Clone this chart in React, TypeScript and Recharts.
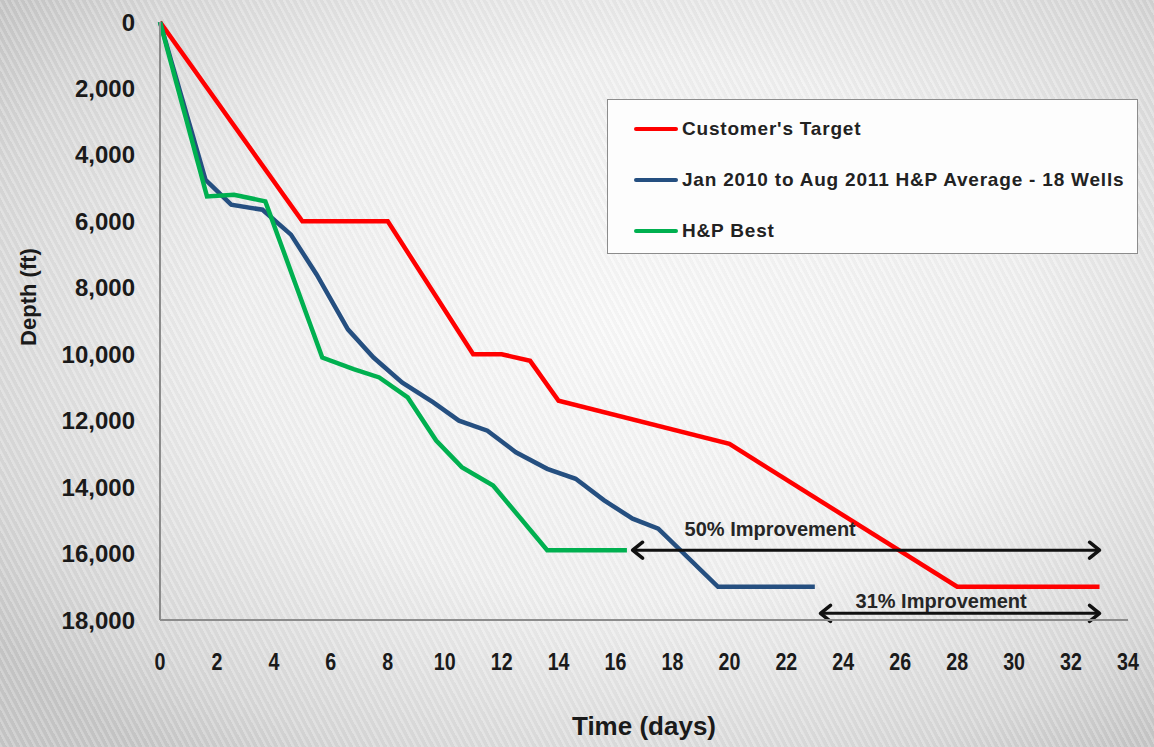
import { LineChart, Line, XAxis, YAxis, ReferenceLine, Legend } from 'recharts';

// axis ticks
const dayTicks = [0, 2, 4, 6, 8, 10, 12, 14, 16, 18, 20, 22, 24, 26, 28, 30, 32, 34];
const depthTicks = [0, 2000, 4000, 6000, 8000, 10000, 12000, 14000, 16000, 18000];

// Customer's Target
const targetDays = [0, 5, 8, 11, 12, 13, 14, 20, 28, 33];
const targetDepths = [0, 6000, 6000, 10000, 10000, 10200, 11400, 12700, 17000, 17000];

// Jan 2010 - Aug 2011 average, 18 wells
const averageDays = [0, 1.6, 2.5, 3.6, 4.6, 5.5, 6.6, 7.5, 8.5, 9.6, 10.5, 11.5, 12.5, 13.6, 14.6, 15.6, 16.6, 17.5, 19.6, 23];
const averageDepths = [0, 4750, 5500, 5650, 6400, 7600, 9250, 10100, 10850, 11450, 12000, 12300, 12950, 13450, 13750, 14400, 14950, 15250, 17000, 17000];

// best well
const bestDays = [0, 1.65, 2.6, 3.7, 5.7, 6.8, 7.7, 8.7, 9.7, 10.6, 11.7, 13.6, 16.4];
const bestDepths = [0, 5250, 5200, 5400, 10100, 10450, 10700, 11300, 12600, 13400, 13950, 15900, 15900];

// improvement arrows
const improvementLabels = ['50% Improvement', '31% Improvement'];
const improvementFrom = [16.6, 23.2];
const improvementTo = [33, 33];
const improvementDepth = [15900, 17800];

const toPoints = (days: number[], depths: number[]) =>
  days.map((day, i) => ({ day, depth: depths[i] }));

const series = [
  { key: 'target', name: "Customer's Target", color: '#ff0000', data: toPoints(targetDays, targetDepths) },
  { key: 'average', name: 'Jan 2010 to Aug 2011 H&P Average - 18 Wells', color: '#254f80', data: toPoints(averageDays, averageDepths) },
  { key: 'best', name: 'H&P Best', color: '#00b050', data: toPoints(bestDays, bestDepths) },
];

const ARIAL = '"Liberation Sans", Arial, sans-serif';

// text offsets for the two arrow captions (px from arrow start / above arrow)
const captionOffsets = [
  { dx: 52, dy: -14 },
  { dx: 35, dy: -5 },
];

function ArrowShape(props: any) {
  const { x1, y1, x2, y2, label, caption } = props;
  const head = 8;
  const stroke = '#111';
  return (
    <g>
      <line x1={x1} y1={y1} x2={x2} y2={y2} stroke={stroke} strokeWidth={3} />
      <polyline
        points={`${x1 + head + 2},${y1 - head} ${x1},${y1} ${x1 + head + 2},${y1 + head}`}
        fill="none"
        stroke={stroke}
        strokeWidth={3.5}
        strokeLinecap="round"
        strokeLinejoin="round"
      />
      <polyline
        points={`${x2 - head - 2},${y2 - head} ${x2},${y2} ${x2 - head - 2},${y2 + head}`}
        fill="none"
        stroke={stroke}
        strokeWidth={3.5}
        strokeLinecap="round"
        strokeLinejoin="round"
      />
      <text x={x1 + caption.dx} y={y1 + caption.dy} fontFamily={ARIAL} fontSize={20} fontWeight={700} fill="#262626">
        {label}
      </text>
    </g>
  );
}

// condensed bold day numbers
function DayTick(props: any) {
  const { x, y, payload } = props;
  return (
    <text
      x={x}
      y={y}
      dy="0.71em"
      textAnchor="middle"
      transform={`translate(${x} 0) scale(0.82 1) translate(${-x} 0)`}
      fontFamily={ARIAL}
      fontSize={24}
      fontWeight={700}
      fill="#1a1a1a"
    >
      {payload.value}
    </text>
  );
}

const renderLegend = () => (
  <div
    style={{
      width: 531,
      height: 155,
      boxSizing: 'border-box',
      background: '#fdfdfd',
      border: '1.5px solid #8c8c8c',
      paddingTop: 3,
      paddingLeft: 26,
    }}
  >
    {series.map((s) => (
      <div key={s.key} style={{ display: 'flex', alignItems: 'center', height: 51 }}>
        <span
          style={{
            display: 'inline-block',
            width: 44,
            height: 4,
            borderRadius: 2,
            background: s.color,
            marginRight: 4,
          }}
        />
        <span style={{ fontFamily: ARIAL, fontWeight: 700, fontSize: 19, letterSpacing: 0.8, color: '#222' }}>
          {s.name}
        </span>
      </div>
    ))}
  </div>
);

export default function App() {
  return (
    <div
      style={{
        position: 'absolute',
        left: 0,
        top: 0,
        width: 1154,
        height: 747,
        overflow: 'hidden',
        background:
          'repeating-linear-gradient(62deg, rgba(255,255,255,0.18) 0px, rgba(255,255,255,0.18) 2px, rgba(0,0,0,0.025) 3px, rgba(0,0,0,0.025) 6px), radial-gradient(ellipse 68% 72% at 55% 44%, #fafafa 0%, #f1f1f1 50%, #d9d9d9 85%, #c8c8c8 100%)',
      }}
    >
      <LineChart width={1154} height={747} margin={{ top: 22, right: 26, bottom: 0, left: 0 }}>
        <XAxis
          type="number"
          dataKey="day"
          domain={[0, 34]}
          ticks={dayTicks}
          interval={0}
          height={127}
          tickLine={false}
          tickSize={0}
          tickMargin={33}
          axisLine={{ stroke: '#8c8c8c', strokeWidth: 2 }}
          tick={<DayTick />}
          label={{
            value: 'Time (days)',
            position: 'insideBottom',
            offset: 12,
            style: { fontFamily: ARIAL, fontSize: 26, fontWeight: 700, fill: '#1a1a1a' },
          }}
        />
        <YAxis
          type="number"
          dataKey="depth"
          reversed
          domain={[0, 18000]}
          ticks={depthTicks}
          interval={0}
          width={160}
          tickLine={false}
          tickSize={0}
          tickMargin={25}
          axisLine={{ stroke: '#8c8c8c', strokeWidth: 2 }}
          tickFormatter={(v: number) => v.toLocaleString('en-US')}
          tick={{ fontFamily: ARIAL, fontSize: 24, fontWeight: 700, fill: '#1a1a1a' }}
          label={{
            content: (p: any) => {
              const vb = p.viewBox;
              const cy = vb.y + vb.height / 2 - 24;
              return (
                <text
                  x={28}
                  y={cy}
                  transform={`rotate(-90, 28, ${cy})`}
                  textAnchor="middle"
                  dominantBaseline="central"
                  fontFamily={ARIAL}
                  fontSize={22}
                  fontWeight={700}
                  fill="#1a1a1a"
                >
                  Depth (ft)
                </text>
              );
            },
          }}
        />
        <Legend
          layout="vertical"
          align="center"
          verticalAlign="middle"
          wrapperStyle={{ left: 607, top: 99, width: 531, height: 155 }}
          content={renderLegend}
        />
        {series.map((s) => (
          <Line
            key={s.key}
            data={s.data}
            dataKey="depth"
            name={s.name}
            type="linear"
            stroke={s.color}
            strokeWidth={4.5}
            dot={false}
            activeDot={false}
            isAnimationActive={false}
          />
        ))}
        {improvementLabels.map((label, i) => (
          <ReferenceLine
            key={label}
            segment={[
              { x: improvementFrom[i], y: improvementDepth[i] },
              { x: improvementTo[i], y: improvementDepth[i] },
            ]}
            shape={(p: any) => <ArrowShape {...p} label={label} caption={captionOffsets[i]} />}
          />
        ))}
      </LineChart>
    </div>
  );
}
